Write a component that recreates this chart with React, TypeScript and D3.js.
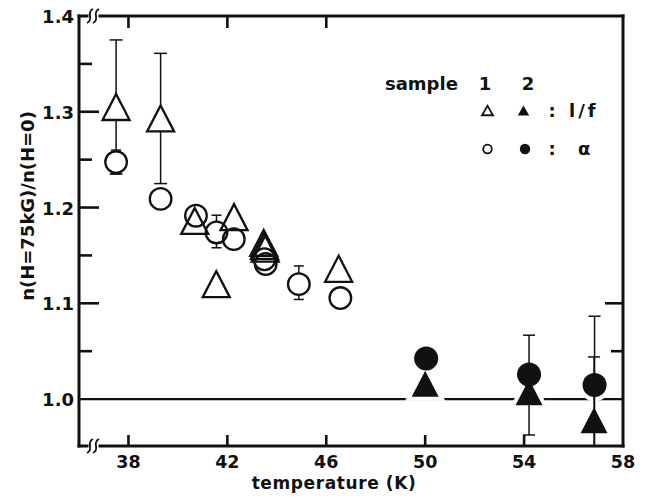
import * as d3 from "d3";

// ---- data ----
const xTickLabels = [38, 42, 46, 50, 54, 58];
const xTopTicks = [38, 42, 46];
const xBottomTicks = [38, 42, 46, 50, 54];
const yMajorTicks = [1.0, 1.1, 1.2, 1.3, 1.4];
const yMinorTicks = [1.05, 1.15, 1.25, 1.35];
const yRightMajor = [1.1];
const yRightMinor = [1.05];

type Pt = { t: number; v: number; lo?: number; hi?: number };

// sample 1, 1/f (open triangles)
const s1Tri: Pt[] = [
  { t: 37.5, v: 1.305, lo: 1.235, hi: 1.375 },
  { t: 39.3, v: 1.293, lo: 1.225, hi: 1.361 },
  { t: 40.68, v: 1.186 },
  { t: 41.55, v: 1.12 },
  { t: 42.27, v: 1.19 },
  { t: 43.47, v: 1.163 },
  { t: 43.5, v: 1.16 },
  { t: 43.53, v: 1.157 },
  { t: 46.5, v: 1.136 },
];

// sample 1, alpha (open circles)
const s1Circ: Pt[] = [
  { t: 37.5, v: 1.2475, lo: 1.235, hi: 1.26 },
  { t: 39.3, v: 1.209 },
  { t: 40.73, v: 1.1915 },
  { t: 41.56, v: 1.174, lo: 1.158, hi: 1.192 },
  { t: 42.26, v: 1.167 },
  { t: 43.5, v: 1.146 },
  { t: 43.55, v: 1.141 },
  { t: 44.89, v: 1.12, lo: 1.104, hi: 1.139 },
  { t: 46.57, v: 1.1055 },
];

// sample 2, 1/f (filled triangles)
const s2Tri: Pt[] = [
  { t: 50.0, v: 1.016 },
  { t: 54.2, v: 1.007, lo: 0.9625, hi: 1.0667 },
  { t: 56.83, v: 0.978, lo: 0.912, hi: 1.044 },
];

// sample 2, alpha (filled circles)
const s2Circ: Pt[] = [
  { t: 50.04, v: 1.0423 },
  { t: 54.2, v: 1.0256 },
  { t: 56.85, v: 1.0146, lo: 0.943, hi: 1.0865 },
];

const W = 646;
const H = 497;
const plot = { left: 79, right: 623, top: 16, bottom: 446 };
const ink = "#111";
const font = "'DejaVu Sans', sans-serif";

const x = d3.scaleLinear().domain([36, 58]).range([plot.left, plot.right]);
const y = d3.scaleLinear().domain([0.951, 1.4]).range([plot.bottom, plot.top]);

function triPath(cx: number, cy: number, w: number, h: number) {
  const p = d3.path();
  p.moveTo(cx, cy - h / 2);
  p.lineTo(cx + w / 2, cy + h / 2);
  p.lineTo(cx - w / 2, cy + h / 2);
  p.closePath();
  return p.toString();
}

// little "//" axis break symbol
function breakPath(bx: number, by: number) {
  const p = d3.path();
  for (const dx of [0, 6]) {
    p.moveTo(bx + dx + 3, by - 7);
    p.quadraticCurveTo(bx + dx - 1, by - 5, bx + dx, by);
    p.quadraticCurveTo(bx + dx + 1, by + 5, bx + dx - 3, by + 7);
  }
  return p.toString();
}

function ErrorBars({ data, cap }: { data: Pt[]; cap: number }) {
  return (
    <g stroke={ink} strokeWidth={1.5} fill="none" clipPath="url(#plotclip)">
      {data
        .filter((d) => d.lo !== undefined && d.hi !== undefined)
        .map((d, i) => (
          <g key={i}>
            <line x1={x(d.t)} x2={x(d.t)} y1={y(d.hi!)} y2={y(d.lo!)} />
            <line x1={x(d.t) - cap / 2} x2={x(d.t) + cap / 2} y1={y(d.hi!)} y2={y(d.hi!)} />
            <line x1={x(d.t) - cap / 2} x2={x(d.t) + cap / 2} y1={y(d.lo!)} y2={y(d.lo!)} />
          </g>
        ))}
    </g>
  );
}

const TRI_W = 27;
const TRI_H = 26;
const CIRC_R = 10.8;

export default function App() {
  const breakX = 90;
  return (
    <svg
      width={W}
      height={H}
      style={{ position: "absolute", left: 0, top: 0, background: "#fff" }}
      fontFamily={font}
      fontWeight="bold"
    >
      <defs>
        <clipPath id="plotclip">
          <rect x={plot.left} y={plot.top} width={plot.right - plot.left} height={plot.bottom - plot.top} />
        </clipPath>
      </defs>
      <rect width={W} height={H} fill="#fff" />

      {/* frame */}
      <g stroke={ink} strokeWidth={3} fill="none" strokeLinecap="square">
        <line x1={plot.left} x2={plot.left} y1={plot.top} y2={plot.bottom} />
        <line x1={plot.right} x2={plot.right} y1={plot.top} y2={plot.bottom} />
        <line x1={plot.left} x2={breakX - 3} y1={plot.top} y2={plot.top} />
        <line x1={breakX + 10} x2={plot.right} y1={plot.top} y2={plot.top} />
        <line x1={plot.left} x2={breakX - 3} y1={plot.bottom} y2={plot.bottom} />
        <line x1={breakX + 10} x2={plot.right} y1={plot.bottom} y2={plot.bottom} />
      </g>
      <g stroke={ink} strokeWidth={1.8} fill="none">
        <path d={breakPath(breakX, plot.top)} />
        <path d={breakPath(breakX, plot.bottom)} />
      </g>

      {/* ticks */}
      <g stroke={ink} strokeWidth={2.6}>
        {yMajorTicks.slice(1, 4).map((v) => (
          <line key={"ym" + v} x1={plot.left} x2={plot.left + 20} y1={y(v)} y2={y(v)} />
        ))}
        {yMinorTicks.map((v) => (
          <line key={"yn" + v} x1={plot.left} x2={plot.left + 13} y1={y(v)} y2={y(v)} />
        ))}
        {yRightMajor.map((v) => (
          <line key={"rm" + v} x1={plot.right} x2={plot.right - 18} y1={y(v)} y2={y(v)} />
        ))}
        {yRightMinor.map((v) => (
          <line key={"rn" + v} x1={plot.right} x2={plot.right - 12} y1={y(v)} y2={y(v)} />
        ))}
        {xTopTicks.map((t) => (
          <line key={"xt" + t} x1={x(t)} x2={x(t)} y1={plot.top} y2={plot.top + 12} />
        ))}
        {xBottomTicks.map((t) => (
          <line key={"xb" + t} x1={x(t)} x2={x(t)} y1={plot.bottom} y2={plot.bottom - 11} />
        ))}
      </g>

      {/* tick labels */}
      <g fill={ink}>
        {yMajorTicks.map((v) => (
          <text key={"yl" + v} x={74} y={y(v) + 7} textAnchor="end" fontSize={18}>
            {v.toFixed(1)}
          </text>
        ))}
        {xTickLabels.map((t) => (
          <text key={"xl" + t} x={x(t)} y={468} textAnchor="middle" fontSize={17.5}>
            {t}
          </text>
        ))}
      </g>

      {/* axis titles */}
      <text x={334} y={488.5} fontSize={17} letterSpacing={0.6} textAnchor="middle" fill={ink}>
        temperature (K)
      </text>
      <text transform="translate(34,206) rotate(-90)" fontSize={18} textAnchor="middle" fill={ink}>
        n(H=75kG)/n(H=0)
      </text>

      {/* reference line at 1.0 */}
      <line x1={plot.left} x2={plot.right} y1={y(1.0)} y2={y(1.0)} stroke={ink} strokeWidth={2.2} />

      {/* white halos around filled markers */}
      <g fill="#fff" stroke="#fff" strokeWidth={8}>
        {s2Tri.map((d, i) => (
          <path key={"ht" + i} d={triPath(x(d.t), y(d.v), TRI_W, TRI_H)} />
        ))}
        {s2Circ.map((d, i) => (
          <circle key={"hc" + i} cx={x(d.t)} cy={y(d.v)} r={12} />
        ))}
      </g>

      <ErrorBars data={s1Tri} cap={13} />
      <ErrorBars data={s1Circ} cap={10} />
      <ErrorBars data={s2Tri} cap={12} />
      <ErrorBars data={s2Circ} cap={12} />

      {/* open markers: white fill hides error bars, outlines drawn on top */}
      <g fill="#fff" stroke="none">
        {s1Circ.map((d, i) => (
          <circle key={"oc" + i} cx={x(d.t)} cy={y(d.v)} r={CIRC_R} />
        ))}
        {s1Tri.map((d, i) => (
          <path key={"ot" + i} d={triPath(x(d.t), y(d.v), TRI_W, TRI_H)} />
        ))}
      </g>
      <g fill="none" stroke={ink} strokeWidth={2.3} strokeLinejoin="miter">
        {s1Circ.map((d, i) => (
          <circle key={"oc2" + i} cx={x(d.t)} cy={y(d.v)} r={CIRC_R} />
        ))}
        {s1Tri.map((d, i) => (
          <path key={"ot2" + i} d={triPath(x(d.t), y(d.v), TRI_W, TRI_H)} />
        ))}
      </g>

      {/* filled markers */}
      <g fill={ink} stroke="none">
        {s2Tri.map((d, i) => (
          <path key={"ft" + i} d={triPath(x(d.t), y(d.v), TRI_W, TRI_H)} />
        ))}
        {s2Circ.map((d, i) => (
          <circle key={"fc" + i} cx={x(d.t)} cy={y(d.v)} r={12} />
        ))}
      </g>

      {/* legend */}
      <g fontSize={18} fill={ink}>
        <text x={385} y={90}>sample</text>
        <text x={485} y={90} textAnchor="middle">1</text>
        <text x={528} y={90} textAnchor="middle">2</text>
        <path d={triPath(487.5, 110.5, 11, 9.5)} fill="none" stroke={ink} strokeWidth={1.8} />
        <path d={triPath(523.5, 110.5, 11.5, 10)} fill={ink} />
        <text x={552} y={117} textAnchor="middle">:</text>
        <text x={569} y={117} letterSpacing={3}>l/f</text>
        <circle cx={487.5} cy={149} r={4.3} fill="none" stroke={ink} strokeWidth={1.8} />
        <circle cx={525} cy={149} r={5.2} fill={ink} />
        <text x={552} y={155} textAnchor="middle">:</text>
        <text x={578} y={155}>α</text>
      </g>
    </svg>
  );
}
